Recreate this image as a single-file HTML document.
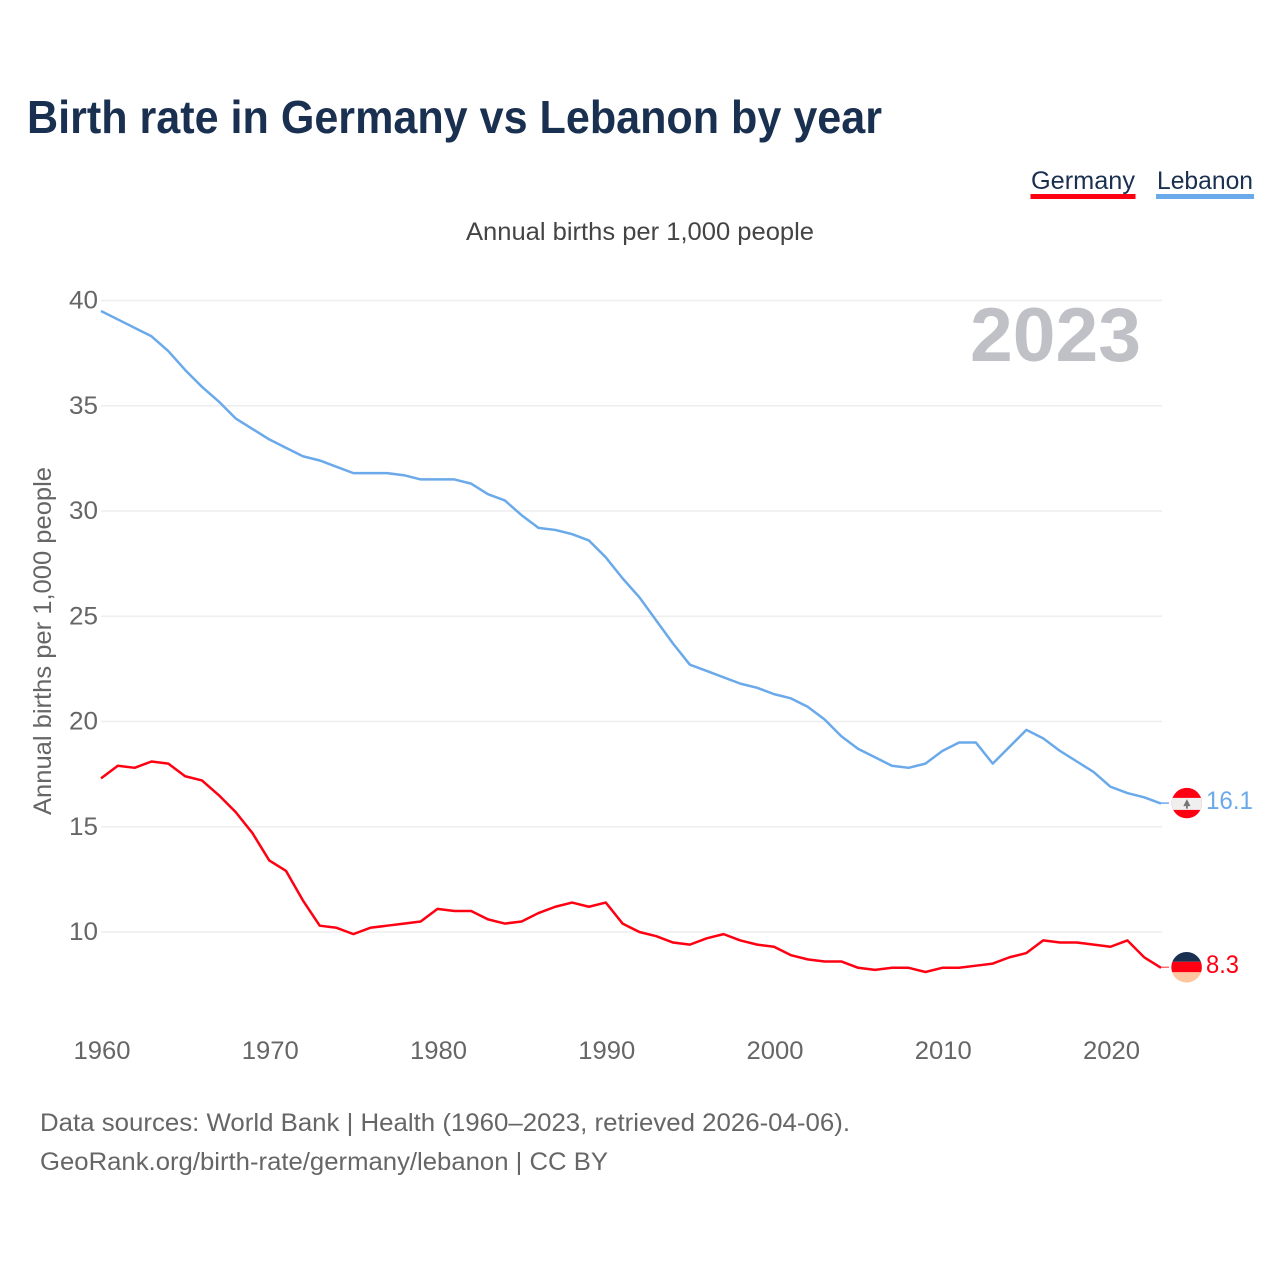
<!DOCTYPE html>
<html lang="en">
<head>
<meta charset="utf-8">
<title>Birth rate in Germany vs Lebanon by year</title>
<style>
html,body{margin:0;padding:0;background:#fff;width:1280px;height:1280px;overflow:hidden}
svg{display:block;font-family:"Liberation Sans",sans-serif}
</style>
</head>
<body>
<svg id="chart" xmlns="http://www.w3.org/2000/svg" width="1280" height="1280" viewBox="0 0 1280 1280">
  <rect width="1280" height="1280" fill="#fff"/>
  <text x="27" y="133" font-size="46" font-weight="700" fill="#1a3050" textLength="855" lengthAdjust="spacingAndGlyphs">Birth rate in Germany vs Lebanon by year</text>

  <g>
    <text x="1031" y="189" font-size="25" fill="#1a3050" textLength="104" lengthAdjust="spacingAndGlyphs">Germany</text>
    <rect x="1030.5" y="194" width="105" height="5" fill="#ff0012"/>
  </g>
  <g>
    <text x="1157" y="189" font-size="25" fill="#1a3050" textLength="96" lengthAdjust="spacingAndGlyphs">Lebanon</text>
    <rect x="1156" y="194" width="98" height="5" fill="#6aa9ea"/>
  </g>

  <text x="466" y="240" font-size="25" fill="#444" textLength="348" lengthAdjust="spacingAndGlyphs">Annual births per 1,000 people</text>
  <text transform="translate(51,815) rotate(-90)" font-size="25" fill="#666" textLength="348" lengthAdjust="spacingAndGlyphs">Annual births per 1,000 people</text>

  <g id="grid"></g>
  <g id="yticks"></g>
  <g id="xticks"></g>

  <text x="970" y="361" font-size="76" font-weight="700" fill="#c0c1c6" textLength="171" lengthAdjust="spacingAndGlyphs">2023</text>

  <g id="series"></g>
  <g id="markers"></g>

  <text x="40" y="1131" font-size="25" fill="#666" textLength="810" lengthAdjust="spacingAndGlyphs">Data sources: World Bank | Health (1960–2023, retrieved 2026-04-06).</text>
  <text x="40" y="1170" font-size="25" fill="#666" textLength="568" lengthAdjust="spacingAndGlyphs">GeoRank.org/birth-rate/germany/lebanon | CC BY</text>
</svg>

<script>
const startYear = 1960;
const germanyValues = [17.3,17.9,17.8,18.1,18.0,17.4,17.2,16.5,15.7,14.7,
  13.4,12.9,11.5,10.3,10.2,9.9,10.2,10.3,10.4,10.5,
  11.1,11.0,11.0,10.6,10.4,10.5,10.9,11.2,11.4,11.2,
  11.4,10.4,10.0,9.8,9.5,9.4,9.7,9.9,9.6,9.4,
  9.3,8.9,8.7,8.6,8.6,8.3,8.2,8.3,8.3,8.1,
  8.3,8.3,8.4,8.5,8.8,9.0,9.6,9.5,9.5,9.4,
  9.3,9.6,8.8,8.3];
const lebanonValues = [39.5,39.1,38.7,38.3,37.6,36.7,35.9,35.2,34.4,33.9,
  33.4,33.0,32.6,32.4,32.1,31.8,31.8,31.8,31.7,31.5,
  31.5,31.5,31.3,30.8,30.5,29.8,29.2,29.1,28.9,28.6,
  27.8,26.8,25.9,24.8,23.7,22.7,22.4,22.1,21.8,21.6,
  21.3,21.1,20.7,20.1,19.3,18.7,18.3,17.9,17.8,18.0,
  18.6,19.0,19.0,18.0,18.8,19.6,19.2,18.6,18.1,17.6,
  16.9,16.6,16.4,16.1];
const yTicks = [10,15,20,25,30,35,40];
const xTicks = [1960,1970,1980,1990,2000,2010,2020];

const NS = 'http://www.w3.org/2000/svg';
const xScale = function (year) { return 101 + (year - 1960) * (1060 / 63); };
const yScale = function (v) { return 300.5 + (40 - v) * (631.5 / 30); };

function make(tag, parent, attrs, content) {
  const el = document.createElementNS(NS, tag);
  for (const k in attrs) el.setAttribute(k, attrs[k]);
  if (content !== undefined) el.textContent = content;
  parent.appendChild(el);
  return el;
}

const gridG = document.getElementById('grid');
const yG = document.getElementById('yticks');
const xG = document.getElementById('xticks');
const seriesG = document.getElementById('series');
const markersG = document.getElementById('markers');

yTicks.forEach(function (t) {
  const line = make('line', gridG, {x1: 101, x2: 1162, y1: yScale(t), y2: yScale(t), stroke: '#eeeeee', 'stroke-width': 1.5});
  
  
  const label = make('text', yG, {x: 69, y: yScale(t) + 8, 'font-size': 25, fill: '#666', textLength: 29, lengthAdjust: 'spacingAndGlyphs'}, String(t));
  
  
});

xTicks.forEach(function (t) {
  const label = make('text', xG, {x: xScale(t) - 27.5, y: 1059, 'font-size': 25, fill: '#666', textLength: 57, lengthAdjust: 'spacingAndGlyphs'}, String(t));
  
  
});

function linePoints(values) {
  return values.map(function (v, i) { return xScale(startYear + i).toFixed(2) + ',' + yScale(v).toFixed(2); }).join(' ');
}

const germanyLine = make('polyline', seriesG, {points: linePoints(germanyValues), fill: 'none', stroke: '#ff0012', 'stroke-width': 2.5, 'stroke-linejoin': 'round'});


const lebanonLine = make('polyline', seriesG, {points: linePoints(lebanonValues), fill: 'none', stroke: '#6aa9ea', 'stroke-width': 2.5, 'stroke-linejoin': 'round'});



/* Lebanon end marker */
const lebLast = lebanonValues[lebanonValues.length - 1];
const lebY = yScale(lebLast);
const lebConn = make('line', markersG, {x1: 1161, x2: 1169, y1: lebY - 0.5, y2: lebY - 0.5, stroke: '#6aa9ea', 'stroke-width': 1.5});


const defs = make('defs', markersG, {});
const cpL = make('clipPath', defs, {id: 'clip-leb'});
make('circle', cpL, {cx: 1186.8, cy: lebY - 0.5, r: 15.2});
const cpG = make('clipPath', defs, {id: 'clip-ger'});
const gerLast = germanyValues[germanyValues.length - 1];
const gerY = yScale(gerLast);
make('circle', cpG, {cx: 1186.6, cy: gerY - 0.5, r: 15.3});

const lebFlag = make('g', markersG, {'clip-path': 'url(#clip-leb)'});


make('rect', lebFlag, {x: 1170, y: lebY - 17, width: 34, height: 34, fill: '#ff0012'});
make('rect', lebFlag, {x: 1170, y: lebY - 5.7, width: 34, height: 12, fill: '#efefef'});
make('polygon', lebFlag, {points: [1186.9, lebY - 4.5, 1190.5, lebY + 2.5, 1187.8, lebY + 2.5, 1187.8, lebY + 5, 1186, lebY + 5, 1186, lebY + 2.5, 1183.3, lebY + 2.5].join(' '), fill: '#777'});

const gerConn = make('line', markersG, {x1: 1161, x2: 1169, y1: gerY - 0.5, y2: gerY - 0.5, stroke: '#ff6a70', 'stroke-width': 1.5});


const gerFlag = make('g', markersG, {'clip-path': 'url(#clip-ger)'});


make('rect', gerFlag, {x: 1170, y: gerY - 17, width: 34, height: 11, fill: '#1a3050'});
make('rect', gerFlag, {x: 1170, y: gerY - 6, width: 34, height: 10.5, fill: '#ff0012'});
make('rect', gerFlag, {x: 1170, y: gerY + 4.5, width: 34, height: 13, fill: '#fdc5a0'});

const lebVal = make('text', markersG, {x: 1206, y: lebY + 5.5, 'font-size': 25, fill: '#6aa9ea', textLength: 47, lengthAdjust: 'spacingAndGlyphs'}, lebLast.toFixed(1));


const gerVal = make('text', markersG, {x: 1206, y: gerY + 5, 'font-size': 25, fill: '#ff0012', textLength: 33, lengthAdjust: 'spacingAndGlyphs'}, gerLast.toFixed(1));


</script>
</body>
</html>
